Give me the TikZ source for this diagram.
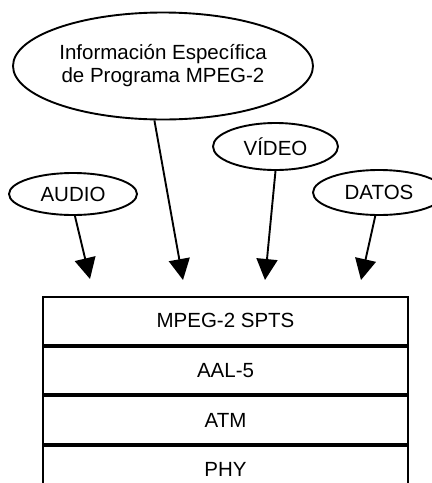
\documentclass[tikz,border=0pt]{standalone}
\usepackage{fontspec}
\setmainfont{Liberation Sans}
\usetikzlibrary{shapes.geometric, arrows.meta, positioning}

\begin{document}
\begin{tikzpicture}[x=1pt, y=-1pt, line width=1.9pt,
  bubble/.style={draw, ellipse, inner sep=0pt, font=\fontsize{20.5}{23}\selectfont},
  layer/.style={draw, rectangle, minimum width=365pt, minimum height=47.75pt,
    inner sep=0pt, font=\fontsize{20.5}{23}\selectfont},
  feed/.style={-{Triangle[length=21pt,width=21pt]}}]
  \useasboundingbox (0,0) rectangle (432,483);
  \clip (0,0) rectangle (432,483);
  % sources
  \node[bubble, minimum width=300pt, minimum height=107pt, align=center] (info) at (163,66)
    {Información Específica\\de Programa MPEG-2};
  \node[bubble, minimum width=128pt, minimum height=42pt] (audio) at (73,194) {AUDIO};
  \node[bubble, minimum width=125pt, minimum height=47pt] (video) at (275.5,146.5) {VÍDEO};
  \node[bubble, minimum width=132pt, minimum height=45pt] (datos) at (379,192.5) {DATOS};
  % arrow tips
  \coordinate (ta) at (90,279);
  \coordinate (ti) at (183,280);
  \coordinate (tv) at (265,280);
  \coordinate (td) at (361,280);
  \draw[feed] (audio.275) -- (ta);
  \draw[feed] (info.261) -- (ti);
  \draw[feed] (video.south) -- (tv);
  \draw[feed] (datos.261) -- (td);
  % protocol stack
  \node[layer] (spts) at (225.5,320.9) {MPEG-2 SPTS};
  \node[layer, below=0pt of spts] (aal) {AAL-5};
  \node[layer, below=0pt of aal] (atm) {ATM};
  \node[layer, below=0pt of atm] (phy) {PHY};
\end{tikzpicture}
\end{document}
